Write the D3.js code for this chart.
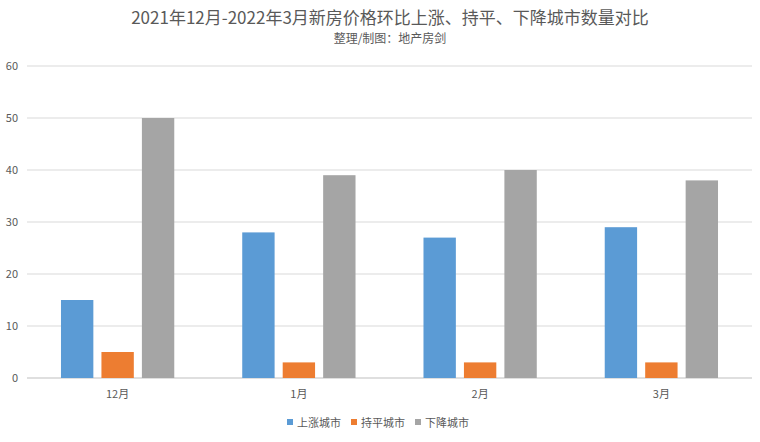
<!DOCTYPE html><html><head><meta charset="utf-8"><script src="https://cdn.jsdelivr.net/npm/d3@7"></script>
<style>body{margin:0;background:#fff}</style></head><body><svg id="c" width="760" height="442"></svg>
<script>
const categories=["12月","1月","2月","3月"];
const seriesNames=["上涨城市","持平城市","下降城市"];
const colors=["#5b9bd5","#ed7d31","#a5a5a5"];
const rise=[15,28,27,29];
const flat=[5,3,3,3];
const fall=[50,39,40,38];
const yTicks=[0,10,20,30,40,50,60];
const series=[rise,flat,fall];
const svg=d3.select("#c");
const font="'Noto Sans CJK SC','Noto Sans',sans-serif";
const L=27,R=752,T=66,B=378;
const x=d3.scaleBand().domain(categories).range([L,R]);
const y=d3.scaleLinear().domain([0,60]).range([B,T]);
const xs=d3.scaleBand().domain(d3.range(3)).range([0,x.bandwidth()]).paddingInner(0.2).paddingOuter(0.84);
svg.append("g").selectAll("line").data(yTicks).join("line").attr("x1",L).attr("x2",R).attr("y1",d=>y(d)).attr("y2",d=>y(d)).attr("stroke",d=>d===0?"#bfbfbf":"#d9d9d9");
svg.append("g").selectAll("text").data(yTicks).join("text").attr("x",18).attr("y",d=>y(d)+4).attr("text-anchor","end").attr("font-size",11).attr("font-family",font).attr("fill","#595959").text(d=>d);
categories.forEach((c,i)=>{
 series.forEach((s,j)=>{
  svg.append("rect").attr("x",x(c)+xs(j)).attr("width",xs.bandwidth()).attr("y",y(s[i])).attr("height",B-y(s[i])).attr("fill",colors[j]);
 });
 svg.append("text").attr("x",x(c)+x.bandwidth()/2).attr("y",398).attr("text-anchor","middle").attr("font-size",11).attr("font-family",font).attr("fill","#595959").text(c);
});
svg.append("text").attr("x",390).attr("y",24).attr("text-anchor","middle").attr("font-size",17).attr("font-family",font).attr("fill","#595959").text("2021年12月-2022年3月新房价格环比上涨、持平、下降城市数量对比");
svg.append("text").attr("x",390).attr("y",43).attr("text-anchor","middle").attr("font-size",12).attr("font-family",font).attr("fill","#595959").text("整理/制图：地产房剑");
const lx=[290,354,418];
seriesNames.forEach((n,j)=>{
 svg.append("rect").attr("x",lx[j]-3).attr("y",419).attr("width",6).attr("height",6).attr("fill",colors[j]);
 svg.append("text").attr("x",lx[j]+7).attr("y",427).attr("font-size",11).attr("font-family",font).attr("fill","#595959").text(n);
});
</script></body></html>
